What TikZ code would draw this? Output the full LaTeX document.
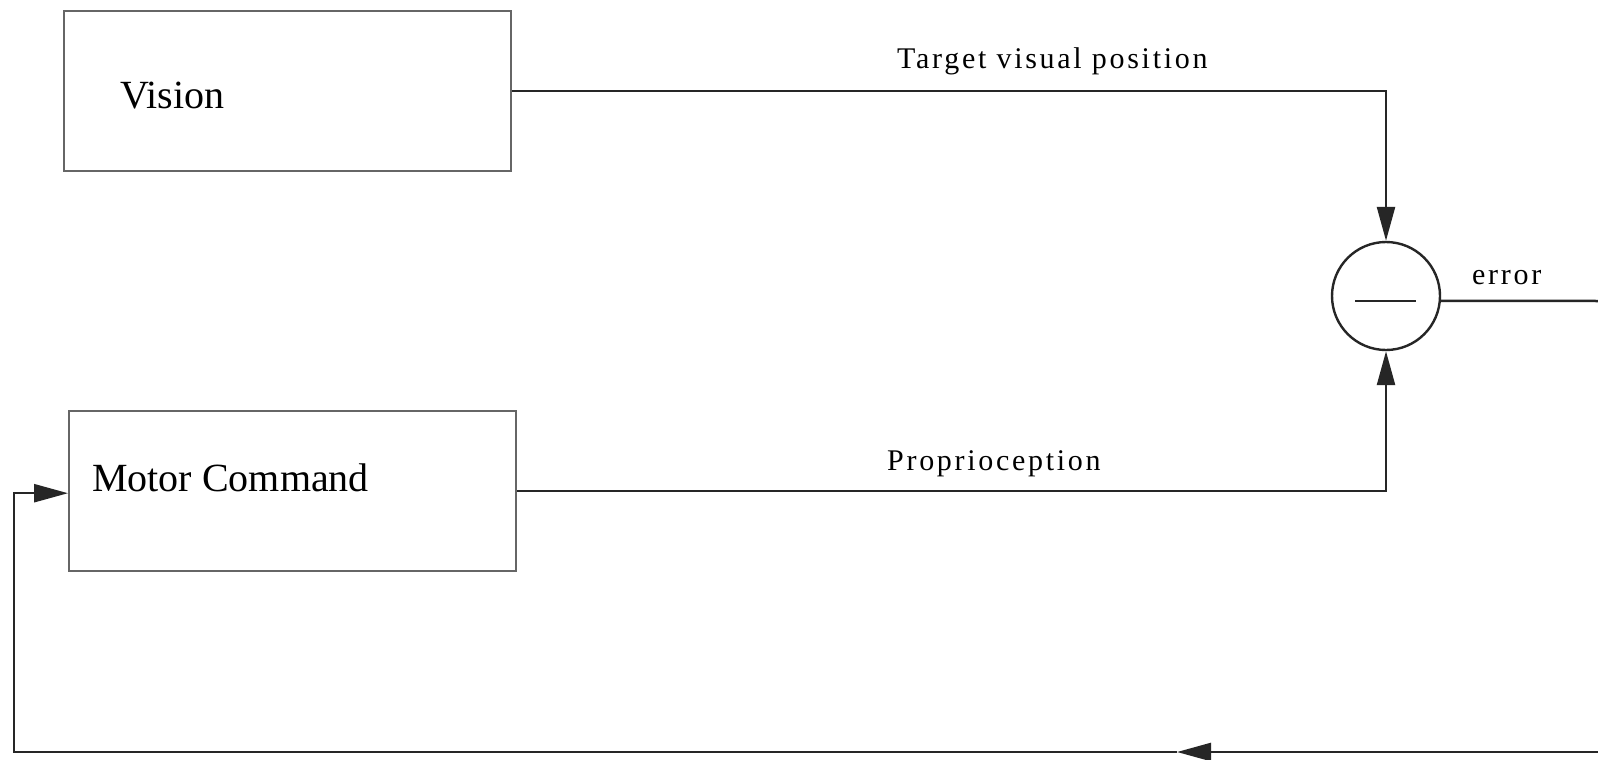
\documentclass[tikz,border=0pt]{standalone}
\usepackage{fontspec}
\setmainfont{Liberation Serif}
\newfontfamily\signalfont[LetterSpace=9]{Liberation Serif}
\usetikzlibrary{arrows.meta,calc}

\begin{document}
\begin{tikzpicture}[x=1pt,y=-1pt,
  blockbox/.style={draw=black!60, line width=2.4pt, minimum width=447pt,
    minimum height=160pt, anchor=north west, inner sep=0pt},
  blocktext/.style={anchor=base west, inner sep=0pt,
    font=\fontsize{40}{40}\selectfont},
  sigtext/.style={anchor=base west, inner sep=0pt,
    font=\signalfont\fontsize{30}{30}\selectfont},
  wire/.style={draw=black!85, line width=2.5pt},
  tip/.style={-{Triangle[length=34pt,width=18pt]}},
]
\fill[white] (0,0) rectangle (1598,760);
\useasboundingbox (0,0) rectangle (1598,760);

% blocks
\node[blockbox] (vision) at (63,10) {};
\node[blocktext] (visiontext) at (120,108) {Vision};
\node[blockbox] (motor) at (68,410) {};
\node[blocktext] (motortext) at (92,491) {Motor Command};

% comparator
\node[circle, draw=black!85, line width=2.4pt, minimum size=108pt, inner sep=0pt] (sum) at (1386,296) {};
\draw[wire] ($(sum)+(-31,5)$) -- ($(sum)+(30,5)$);

% signal labels
\node[sigtext] (targetlbl) at (897,69) {Target visual position};
\node[sigtext] (proplbl) at (887,470) {Proprioception};
\node[sigtext] (errlbl) at (1472,284) {error};

% free ends and corners of the feedback loop
\coordinate (errout) at (1598,301);
\coordinate (fbin) at (1598,752);
\coordinate (fbmid) at (1177,752);
\coordinate (fbturn) at (14,752);

% connectors
\draw[wire, tip] (vision.east) -| (sum.north);
\draw[wire, tip] (motor.east) -| (sum.south);
\draw[wire] (sum.-5) -- (errout);
\draw[wire, tip] (fbin) -- (fbmid);
\draw[wire, tip] (fbmid) -- (fbturn) |- ([yshift=-2pt]motor.west);
\end{tikzpicture}
\end{document}
